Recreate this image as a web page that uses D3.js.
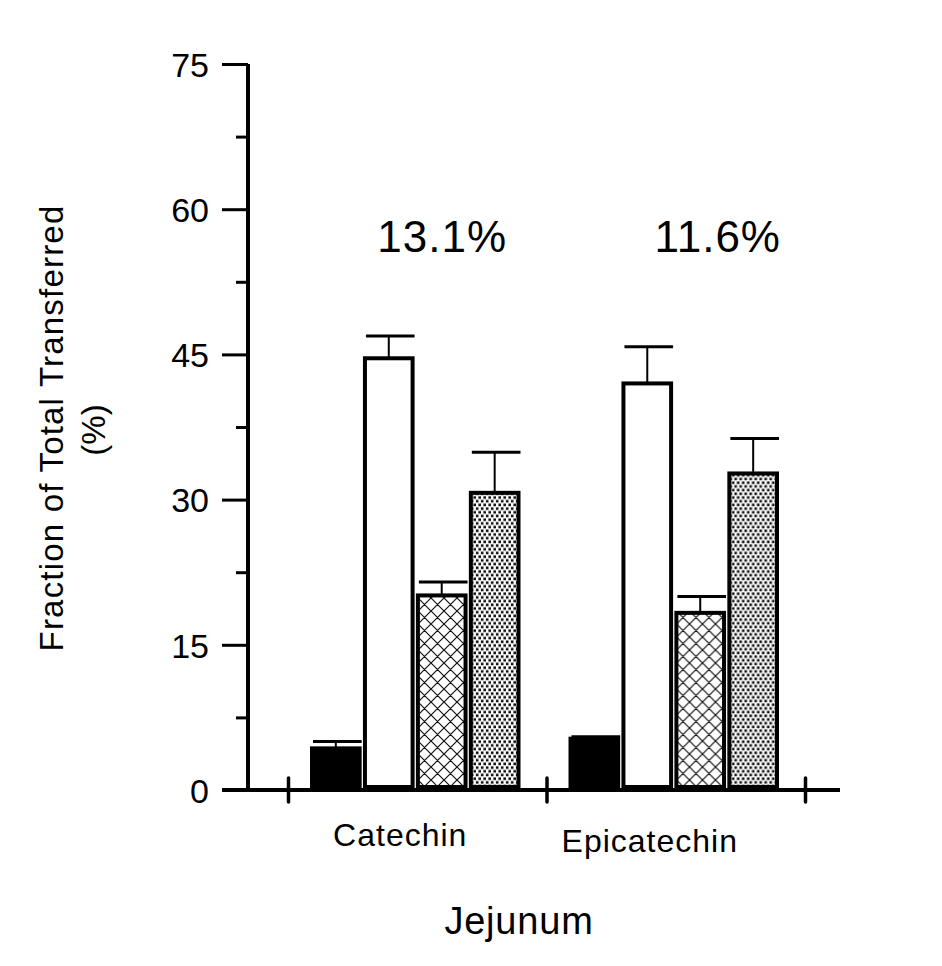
<!DOCTYPE html>
<html>
<head>
<meta charset="utf-8">
<script src="https://cdn.jsdelivr.net/npm/d3@7"></script>
<style>
  html, body { margin: 0; padding: 0; background: #fff; }
  svg { display: block; }
  text { font-family: "Liberation Sans", Arial, sans-serif; fill: #000; }
</style>
</head>
<body>
<svg id="chart" width="942" height="966"></svg>
<script>
// ---- data ----
const categories = ["Catechin", "Epicatechin"];
const seriesNames = ["Series A", "Series B", "Series C", "Series D"];
const seriesFills = ["solid", "open", "crosshatch", "dots"];
const values = [
  [4.3, 44.6, 20.1, 30.7],   // Catechin
  [5.3, 42.0, 18.3, 32.7]    // Epicatechin
];
const errors = [
  [0.7, 2.3, 1.4, 4.2],
  [0.2, 3.8, 1.7, 3.6]
];
const annotations = ["13.1%", "11.6%"];
const yTicks = [0, 15, 30, 45, 60, 75];
const yMinorTicks = [7.5, 22.5, 37.5, 52.5, 67.5];
const yTitle = ["Fraction of Total Transferred", "(%)"];
const xTitle = "Jejunum";

// ---- drawing ----
const svg = d3.select("#chart");
const defs = svg.append("defs");

// crosshatch pattern
const ch = defs.append("pattern").attr("id", "crosshatch")
  .attr("patternUnits", "userSpaceOnUse").attr("width", 13).attr("height", 13);
ch.append("rect").attr("width", 13).attr("height", 13).attr("fill", "#fff");
ch.append("path").attr("d", "M0,0 L13,13 M13,0 L0,13 M-1,12 L1,14 M12,-1 L14,1 M-1,1 L1,-1 M12,14 L14,12")
  .attr("stroke", "#111").attr("stroke-width", 1.2).attr("fill", "none");

// dots pattern
const dp = defs.append("pattern").attr("id", "dots")
  .attr("patternUnits", "userSpaceOnUse").attr("width", 5).attr("height", 7.4);
dp.append("rect").attr("width", 5).attr("height", 7.4).attr("fill", "#fff");
dp.append("rect").attr("x", 0.4).attr("y", 0.4).attr("width", 2.6).attr("height", 2.6).attr("fill", "#111");
dp.append("rect").attr("x", 2.9).attr("y", 4.1).attr("width", 2.6).attr("height", 2.6).attr("fill", "#111");
dp.append("rect").attr("x", -2.1).attr("y", 4.1).attr("width", 2.6).attr("height", 2.6).attr("fill", "#111");

const fillFor = f => f === "solid" ? "#000" : f === "open" ? "#fff" : `url(#${f})`;

const y = d3.scaleLinear().domain([0, 75]).range([790, 64]);
const x0 = d3.scaleBand().domain(categories).range([288, 805]).paddingInner(0).paddingOuter(0);
const x1 = d3.scaleBand().domain(seriesNames).range([24, x0.bandwidth() - 28]).paddingInner(0.1);

// bars
const groups = svg.append("g").selectAll("g").data(categories).join("g")
  .attr("transform", d => `translate(${x0(d)},0)`);

groups.each(function (cat, ci) {
  const g = d3.select(this);
  const rows = seriesNames.map((s, si) => ({ s, si, v: values[ci][si], e: errors[ci][si] }));
  // error bars
  g.selectAll("line.stem").data(rows).join("line").attr("class", "stem")
    .attr("x1", d => x1(d.s) + x1.bandwidth() / 2).attr("x2", d => x1(d.s) + x1.bandwidth() / 2)
    .attr("y1", d => y(d.v)).attr("y2", d => y(d.v + d.e))
    .attr("stroke", "#000").attr("stroke-width", 2);
  g.selectAll("line.cap").data(rows).join("line").attr("class", "cap")
    .attr("x1", d => x1(d.s) + 1).attr("x2", d => x1(d.s) + x1.bandwidth() + 2)
    .attr("y1", d => y(d.v + d.e)).attr("y2", d => y(d.v + d.e))
    .attr("stroke", "#000").attr("stroke-width", 3);
  g.selectAll("rect.bar").data(rows).join("rect").attr("class", "bar")
    .attr("x", d => x1(d.s)).attr("width", x1.bandwidth())
    .attr("y", d => y(d.v)).attr("height", d => y(0) - y(d.v) - 3)
    .attr("fill", d => fillFor(seriesFills[d.si]))
    .attr("stroke", "#000").attr("stroke-width", 4);
});

// y axis
const yAxis = svg.append("g").attr("transform", "translate(248,0)")
  .call(d3.axisLeft(y).tickValues(yTicks).tickSize(26).tickPadding(13).tickFormat(d3.format("d")));
yAxis.select(".domain").attr("stroke-width", 4).attr("d", `M0,${y(75)}V${y(0)}`);
yAxis.selectAll(".tick line").attr("stroke-width", 3);
yAxis.selectAll(".tick text").style("font-size", "34px")
  .style("font-family", "'Liberation Sans', Arial, sans-serif").attr("dy", "0.36em");
const yMinor = svg.append("g").attr("transform", "translate(248,0)")
  .call(d3.axisLeft(y).tickValues(yMinorTicks).tickSize(12).tickFormat(""));
yMinor.select(".domain").remove();
yMinor.selectAll(".tick line").attr("stroke-width", 3);

// x axis
const xb = d3.scaleLinear().domain([0, categories.length]).range(x0.range());
const xAxis = svg.append("g").attr("transform", `translate(0,${y(0)})`)
  .call(d3.axisBottom(xb).tickValues(d3.range(categories.length + 1)).tickSize(12).tickFormat(""));
xAxis.select(".domain").attr("stroke-width", 4).attr("d", "M222,0H840");
xAxis.selectAll(".tick line").attr("y1", -12).attr("y2", 12).attr("stroke-width", 3.5)
  .attr("stroke-linecap", "round");

// category labels
const labelDx = [-17, -26];
const labelDy = [846, 852];
svg.append("g").selectAll("text").data(categories).join("text")
  .attr("x", (d, i) => x0(d) + x0.bandwidth() / 2 + labelDx[i])
  .attr("y", (d, i) => labelDy[i])
  .attr("text-anchor", "middle").style("font-size", "32px").style("letter-spacing", "1px")
  .text(d => d);

// annotations
svg.append("g").selectAll("text").data(annotations).join("text")
  .attr("x", (d, i) => x0(categories[i]) + x0.bandwidth() / 2 + 25 + (i === 1 ? 17 : 0))
  .attr("y", 252)
  .attr("text-anchor", "middle").style("font-size", "44px").style("letter-spacing", "1px")
  .text(d => d);

// axis titles
svg.append("text").attr("transform", "translate(63,428) rotate(-90)")
  .attr("text-anchor", "middle").style("font-size", "33px").style("letter-spacing", "1.2px")
  .text(yTitle[0]);
svg.append("text").attr("transform", "translate(105,430) rotate(-90)")
  .attr("text-anchor", "middle").style("font-size", "33px")
  .text(yTitle[1]);
svg.append("text").attr("x", 519).attr("y", 934)
  .attr("text-anchor", "middle").style("font-size", "38px").style("letter-spacing", "0.8px")
  .text(xTitle);
</script>
</body>
</html>
